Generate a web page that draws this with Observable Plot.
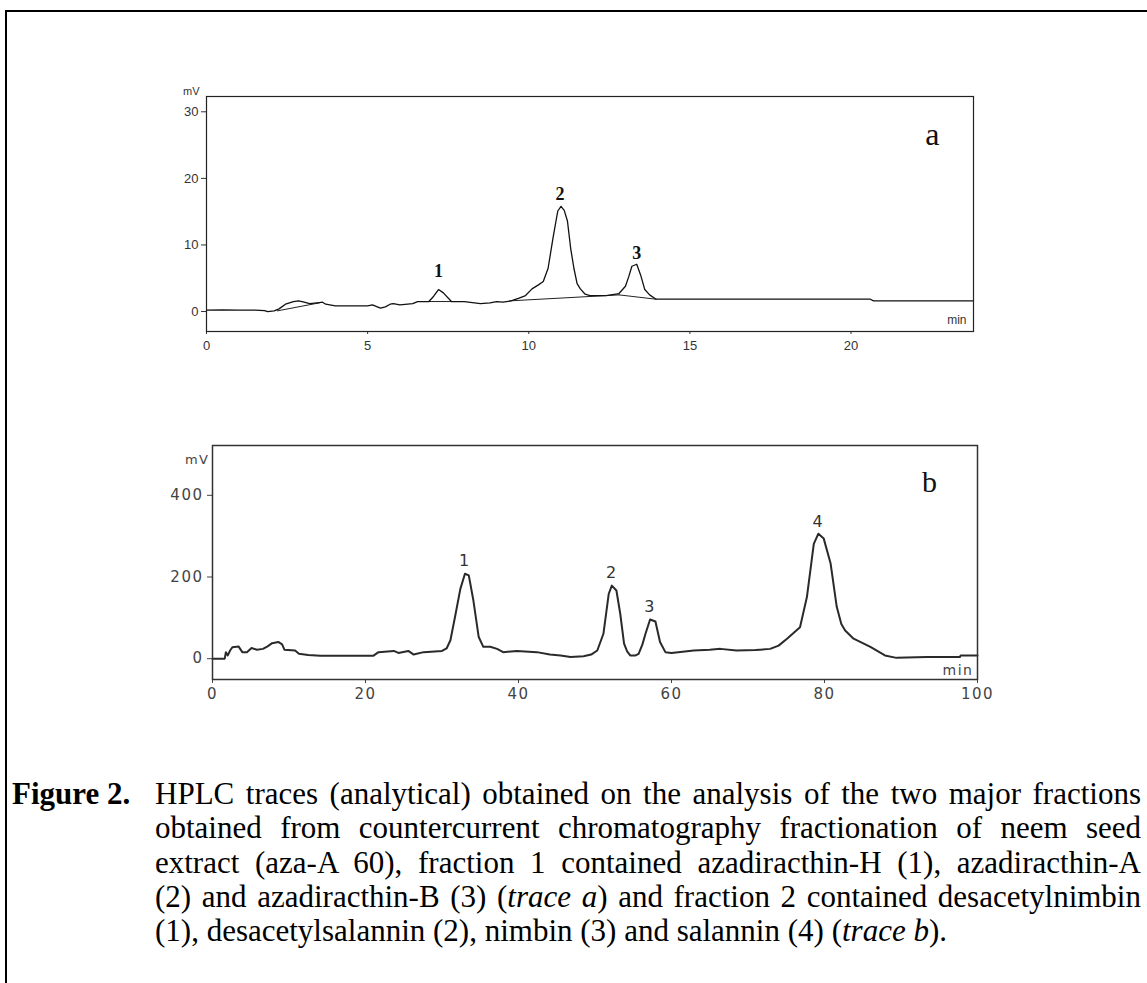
<!DOCTYPE html>
<html><head><meta charset="utf-8">
<script src="https://cdn.jsdelivr.net/npm/d3@7"></script>
<script src="https://cdn.jsdelivr.net/npm/@observablehq/plot@0.6"></script>
<style>
html,body{margin:0;padding:0;background:#fff;width:1147px;height:983px;overflow:hidden;}
#box{position:absolute;left:5px;top:10px;width:1300px;height:1100px;border-left:2px solid #000;border-top:2px solid #000;}
#chartA{position:absolute;left:150px;top:70px;}
#chartB{position:absolute;left:150px;top:420px;}
#figlabel{position:absolute;left:12px;top:777px;font:bold 31px "Liberation Serif",serif;line-height:34.3px;white-space:nowrap;}
#caption{position:absolute;left:155px;top:777px;width:986px;font:31px "Liberation Serif",serif;line-height:34.3px;}
#caption div{text-align:justify;text-align-last:justify;white-space:nowrap;}
#caption div.last{text-align-last:left;}
</style></head>
<body>
<div id="box"></div>
<div id="chartA"></div>
<div id="chartB"></div>
<div id="figlabel">Figure 2.</div>
<div id="caption">
<div>HPLC traces (analytical) obtained on the analysis of the two major fractions</div>
<div>obtained from countercurrent chromatography fractionation of neem seed</div>
<div>extract (aza-A 60), fraction 1 contained azadiracthin-H (1), azadiracthin-A</div>
<div>(2) and azadiracthin-B (3) (<i>trace a</i>) and fraction 2 contained desacetylnimbin</div>
<div class="last">(1), desacetylsalannin (2), nimbin (3) and salannin (4) (<i>trace b</i>).</div>
</div>
<script>
// ---- Trace a (fraction 1): retention time (min) and signal (mV)
const traceA_t = [0,0.5,1.0,1.5,1.8,1.9,2.1,2.25,2.45,2.7,2.85,3.0,3.2,3.5,3.6,3.7,4.0,4.5,5.0,5.15,5.3,5.4,5.55,5.7,5.8,6.0,6.4,6.55,6.9,7.05,7.2,7.35,7.6,8.0,8.5,8.8,9.0,9.2,9.45,9.7,9.9,10.1,10.3,10.45,10.6,10.75,10.9,11.0,11.1,11.2,11.3,11.4,11.5,11.6,11.75,11.9,12.4,12.8,13.0,13.1,13.2,13.35,13.47,13.6,13.75,13.95,14.5,20.6,20.7,23.8];
const traceA_v = [0.2,0.25,0.2,0.2,0.15,0.0,0.1,0.4,1.1,1.5,1.6,1.45,1.2,1.35,1.4,1.1,0.85,0.85,0.85,1.0,0.7,0.5,0.7,1.1,1.2,1.0,1.2,1.5,1.5,2.3,3.3,2.8,1.5,1.5,1.2,1.3,1.5,1.4,1.6,2.0,2.4,3.4,4.0,4.5,6.5,11.0,15.1,15.8,15.2,13.6,9.5,6.5,4.2,3.4,2.6,2.4,2.4,2.7,3.8,5.2,6.8,7.1,5.5,3.3,2.5,1.85,1.85,1.85,1.6,1.6];
// integration baselines drawn under the peaks of trace a
const baseA_seg = [0,0,1,1,2,2,3,3];
const baseA_t = [2.2,3.5, 6.9,7.6, 9.4,12.8, 12.8,13.95];
const baseA_v = [0.1,1.3, 1.5,1.5, 1.6,2.5, 2.5,1.85];
const peakA_t = [7.2,10.97,13.35];
const peakA_h = [6.0,17.6,8.8];
const peakA_label = ["1","2","3"];
const ticksA_x = [0,5,10,15,20];
const ticksA_y = [0,10,20,30];

// ---- Trace b (fraction 2)
const traceB_t = [0,1.6,1.75,2.0,2.3,2.6,3.4,3.9,4.5,5.1,5.8,6.6,7.2,7.8,8.6,9.1,9.4,10.8,11.3,12.5,14.1,21,21.7,23.7,24.3,25.6,26.3,27.6,30,30.6,31.1,31.7,32.4,33.0,33.5,34.1,34.8,35.4,36.3,37.2,38,39.8,42.4,44.1,45.5,46.8,48.5,49.5,50.3,51.1,51.8,52.2,52.8,53.3,53.8,54.2,54.6,55.3,55.7,56.2,56.6,57.2,57.9,58.5,59.2,60,62.9,65,66.4,68.5,71,72.9,74,75.1,76.8,77.7,78.6,79.2,79.9,80.8,81.6,82.2,82.7,83.8,86,87.9,89.4,93.4,97.7,97.8,100];
const traceB_v = [0,0,16,8,20,28,30,16,16,26,22,24,30,38,41,35,22,20,12,9,7,7,16,19,14,19,10,16,19,25,45,102,171,208,204,143,53,29,29,24,16,19,16,10,8,4,6,10,20,61,159,179,167,110,37,18,8,8,12,35,61,96,91,41,16,14,20,22,24,20,21,24,32,49,77,151,281,306,294,233,127,85,69,49,29,8,2,4,4,8,8];
const peakB_t = [33.0,52.2,57.2,79.2];
const peakB_h = [240,210,126,334];
const peakB_label = ["1","2","3","4"];
const ticksB_x = [0,20,40,60,80,100];
const ticksB_y = [0,200,400];

const traceA = traceA_t.map((t,i)=>({t, v:traceA_v[i]}));
const baseA = baseA_t.map((t,i)=>({t, v:baseA_v[i], seg:baseA_seg[i]}));
const labelsA = peakA_t.map((t,i)=>({t, h:peakA_h[i], label:peakA_label[i]}));
const traceB = traceB_t.map((t,i)=>({t, v:traceB_v[i]}));
const labelsB = peakB_t.map((t,i)=>({t, h:peakB_h[i], label:peakB_label[i]}));

const chartA = Plot.plot({
  width: 850, height: 290,
  marginLeft: 56, marginRight: 27, marginTop: 26, marginBottom: 29,
  style: {background: "transparent", overflow: "visible", color: "#333"},
  x: {domain: [0, 23.8]},
  y: {domain: [-3, 32.3]},
  marks: [
    Plot.axisX({ticks: ticksA_x, tickSize: 3, tickPadding: 6, label: null, fontSize: 13, fontFamily: "Liberation Sans"}),
    Plot.axisY({ticks: ticksA_y, tickSize: 5, tickPadding: 3, label: null, fontSize: 13, fontFamily: "Liberation Sans"}),
    Plot.line(baseA, {x: "t", y: "v", z: "seg", stroke: "#222", strokeWidth: 1}),
    Plot.line(traceA, {x: "t", y: "v", stroke: "#111", strokeWidth: 1.3}),
    Plot.frame({stroke: "#222", strokeWidth: 1.2}),
    Plot.text(labelsA, {x: "t", y: "h", text: "label", fontFamily: "Liberation Serif", fontWeight: "bold", fontSize: 18, fill: "#111"}),
    Plot.text(["a"], {frameAnchor: "top-right", dx: -34, dy: 26, fontFamily: "Liberation Serif", fontSize: 32, fill: "#111"}),
    Plot.text(["mV"], {frameAnchor: "top-left", textAnchor: "end", lineAnchor: "bottom", dx: -7, dy: -2, fontFamily: "Liberation Sans", fontSize: 11, fill: "#333"}),
    Plot.text(["min"], {frameAnchor: "bottom-right", textAnchor: "end", lineAnchor: "bottom", dx: -7, dy: -8, fontFamily: "Liberation Sans", fontSize: 12, fill: "#333"})
  ]
});
document.getElementById("chartA").append(chartA);

const chartB = Plot.plot({
  width: 850, height: 290,
  marginLeft: 62, marginRight: 23, marginTop: 25, marginBottom: 31,
  style: {background: "transparent", overflow: "visible", color: "#444", letterSpacing: "1.5px"},
  x: {domain: [0, 100]},
  y: {domain: [-51, 522]},
  marks: [
    Plot.axisX({ticks: ticksB_x, tickSize: 4, tickPadding: 5, label: null, fontSize: 15, fontFamily: "DejaVu Sans"}),
    Plot.axisY({ticks: ticksB_y, tickSize: 5, tickPadding: 4, label: null, fontSize: 15, fontFamily: "DejaVu Sans"}),
    Plot.line(traceB, {x: "t", y: "v", stroke: "#2a2a2a", strokeWidth: 2}),
    Plot.frame({stroke: "#333", strokeWidth: 1.5}),
    Plot.text(labelsB, {x: "t", y: "h", text: "label", fontFamily: "DejaVu Sans", fontSize: 16, fill: "#333"}),
    Plot.text(["b"], {frameAnchor: "top-right", dx: -39, dy: 25, fontFamily: "Liberation Serif", fontSize: 30, fill: "#111"}),
    Plot.text(["mV"], {frameAnchor: "top-left", textAnchor: "end", lineAnchor: "bottom", dx: -3, dy: 18, fontFamily: "DejaVu Sans", fontSize: 13, fill: "#444"}),
    Plot.text(["min"], {frameAnchor: "bottom-right", textAnchor: "end", lineAnchor: "bottom", dx: -4, dy: -5, fontFamily: "DejaVu Sans", fontSize: 14, fill: "#444"})
  ]
});
document.getElementById("chartB").append(chartB);
</script>
</body></html>
